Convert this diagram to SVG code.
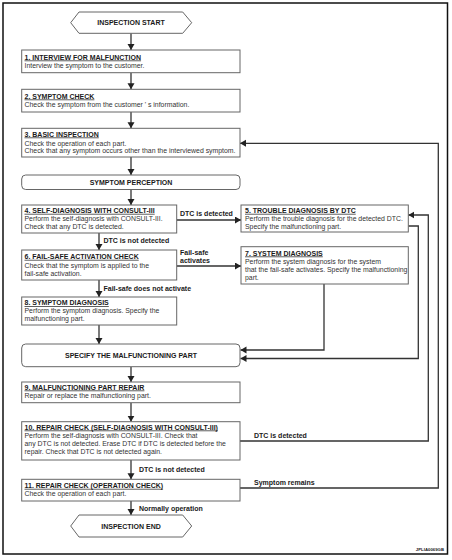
<svg xmlns="http://www.w3.org/2000/svg" width="452" height="560" viewBox="0 0 452 560">
<style>
text{font-family:"Liberation Sans",Arial,sans-serif;fill:#1a1a1a}
.h{font-size:7px;font-weight:bold;text-decoration:underline}
.b{font-size:6.9px;fill:#333}
.c{font-size:7px;font-weight:bold;text-anchor:middle}
.l{font-size:7px;font-weight:bold}
.box{fill:#fff;stroke:#666;stroke-width:1}
.ln{fill:none;stroke:#333;stroke-width:1.3}
</style>
<defs>
<marker id="a" markerUnits="userSpaceOnUse" markerWidth="8" markerHeight="8" refX="6" refY="3.5" orient="auto">
<path d="M0,0 L6,3.5 L0,7 Z" fill="#222"/>
</marker>
</defs>
<rect x="3" y="3" width="444.5" height="551" fill="#fff" stroke="#111" stroke-width="1.5"/>
<g id="connectors">
<line class="ln" x1="131" y1="33.3" x2="131" y2="50" marker-end="url(#a)"/>
<line class="ln" x1="131" y1="72.7" x2="131" y2="89.3" marker-end="url(#a)"/>
<line class="ln" x1="131" y1="112" x2="131" y2="128.3" marker-end="url(#a)"/>
<line class="ln" x1="131" y1="157" x2="131" y2="175" marker-end="url(#a)"/>
<line class="ln" x1="131" y1="189.5" x2="131" y2="205" marker-end="url(#a)"/>
<line class="ln" x1="176.7" y1="220" x2="241" y2="220" marker-end="url(#a)"/>
<line class="ln" x1="99" y1="233" x2="99" y2="250" marker-end="url(#a)"/>
<line class="ln" x1="176.7" y1="266" x2="241" y2="266" marker-end="url(#a)"/>
<line class="ln" x1="99" y1="280" x2="99" y2="297" marker-end="url(#a)"/>
<line class="ln" x1="99" y1="325" x2="99" y2="344" marker-end="url(#a)"/>
<polyline class="ln" points="324,284 324,350 240.5,350" marker-end="url(#a)"/>
<polyline class="ln" points="408.3,226 418.3,226 418.3,358.5 240.5,358.5" marker-end="url(#a)"/>
<polyline class="ln" points="240,441 428.3,441 428.3,215 408.3,215" marker-end="url(#a)"/>
<polyline class="ln" points="240,488 438.3,488 438.3,143.3 240,143.3" marker-end="url(#a)"/>
<line class="ln" x1="131" y1="366.7" x2="131" y2="382" marker-end="url(#a)"/>
<line class="ln" x1="131" y1="402.7" x2="131" y2="421.7" marker-end="url(#a)"/>
<line class="ln" x1="131" y1="460" x2="131" y2="479.3" marker-end="url(#a)"/>
<line class="ln" x1="131" y1="501" x2="131" y2="515" marker-end="url(#a)"/>
<text class="l" x="180" y="216">DTC is detected</text>
<text class="l" x="103.5" y="242.5">DTC is not detected</text>
<text class="l" x="180" y="255">Fail-safe</text>
<text class="l" x="180" y="262.5">activates</text>
<text class="l" x="103.5" y="290.5">Fail-safe does not activate</text>
<text class="l" x="254" y="438">DTC is detected</text>
<text class="l" x="139" y="471.5">DTC is not detected</text>
<text class="l" x="254" y="484.5">Symptom remains</text>
<text class="l" x="139" y="511">Normally operation</text>
</g>
<g id="start">
<polygon class="box" points="70.7,22.7 79,12 182.7,12 191.7,22.7 182.7,33.3 79,33.3"/>
<text class="c" x="131" y="25.3">INSPECTION START</text>
</g>
<g id="n1">
<rect class="box" x="21.7" y="50" width="218.3" height="22.7"/>
<text class="h" x="24.5" y="59.5">1. INTERVIEW FOR MALFUNCTION</text>
<text class="b" x="24.5" y="67.5">Interview the symptom to the customer.</text>
</g>
<g id="n2">
<rect class="box" x="21.7" y="89.3" width="218.3" height="22.7"/>
<text class="h" x="24.5" y="98.5">2. SYMPTOM CHECK</text>
<text class="b" x="24.5" y="106.5">Check the symptom from the customer ' s information.</text>
</g>
<g id="n3">
<rect class="box" x="21.7" y="128.3" width="218.3" height="28.7"/>
<text class="h" x="24.5" y="136.5">3. BASIC INSPECTION</text>
<text class="b" x="24.5" y="145.5">Check the operation of each part.</text>
<text class="b" x="24.5" y="153.3">Check that any symptom occurs other than the interviewed symptom.</text>
</g>
<g id="symptom-perception">
<rect class="box" x="21.7" y="175" width="218.3" height="14.5" rx="4"/>
<text class="c" x="131" y="184.7">SYMPTOM PERCEPTION</text>
</g>
<g id="n4">
<rect class="box" x="21.7" y="205" width="155" height="28"/>
<text class="h" x="24.5" y="212.8">4. SELF-DIAGNOSIS WITH CONSULT-III</text>
<text class="b" x="24.5" y="221">Perform the self-diagnosis with CONSULT-III.</text>
<text class="b" x="24.5" y="229">Check that any DTC is detected.</text>
</g>
<g id="n5">
<rect class="box" x="241" y="205" width="167.3" height="27"/>
<text class="h" x="245" y="212.8">5. TROUBLE DIAGNOSIS BY DTC</text>
<text class="b" x="245" y="221">Perform the trouble diagnosis for the detected DTC.</text>
<text class="b" x="245" y="229">Specify the malfunctioning part.</text>
</g>
<g id="n6">
<rect class="box" x="21.7" y="250" width="155" height="30"/>
<text class="h" x="24.5" y="258.8">6. FAIL-SAFE ACTIVATION CHECK</text>
<text class="b" x="24.5" y="267.5">Check that the symptom is applied to the</text>
<text class="b" x="24.5" y="275.5">fail-safe activation.</text>
</g>
<g id="n7">
<rect class="box" x="241" y="246.7" width="167.3" height="37.3"/>
<text class="h" x="245" y="255.5">7. SYSTEM DIAGNOSIS</text>
<text class="b" x="245" y="264">Perform the system diagnosis for the system</text>
<text class="b" x="245" y="271.8">that the fail-safe activates. Specify the malfunctioning</text>
<text class="b" x="245" y="279.6">part.</text>
</g>
<g id="n8">
<rect class="box" x="21.7" y="297" width="155" height="28"/>
<text class="h" x="24.5" y="305">8. SYMPTOM DIAGNOSIS</text>
<text class="b" x="24.5" y="313.3">Perform the symptom diagnosis. Specify the</text>
<text class="b" x="24.5" y="321.2">malfunctioning part.</text>
</g>
<g id="specify">
<rect class="box" x="21.7" y="344" width="218.3" height="22.7" rx="4"/>
<text class="c" x="131" y="357.6">SPECIFY THE MALFUNCTIONING PART</text>
</g>
<g id="n9">
<rect class="box" x="21.7" y="382" width="218.3" height="20.7"/>
<text class="h" x="24.5" y="389.5">9. MALFUNCTIONING PART REPAIR</text>
<text class="b" x="24.5" y="397.8">Repair or replace the malfunctioning part.</text>
</g>
<g id="n10">
<rect class="box" x="21.7" y="421.7" width="218.3" height="38.3"/>
<text class="h" x="24.5" y="429.5">10. REPAIR CHECK (SELF-DIAGNOSIS WITH CONSULT-III)</text>
<text class="b" x="24.5" y="438">Perform the self-diagnosis with CONSULT-III. Check that</text>
<text class="b" x="24.5" y="446.2">any DTC is not detected. Erase DTC if DTC is detected before the</text>
<text class="b" x="24.5" y="454.4">repair. Check that DTC is not detected again.</text>
</g>
<g id="n11">
<rect class="box" x="21.7" y="479.3" width="218.3" height="21.7"/>
<text class="h" x="24.5" y="487.8">11. REPAIR CHECK (OPERATION CHECK)</text>
<text class="b" x="24.5" y="496.2">Check the operation of each part.</text>
</g>
<g id="end">
<polygon class="box" points="70.7,526 79,515 182.7,515 191.7,526 182.7,537 79,537"/>
<text class="c" x="131" y="528.6">INSPECTION END</text>
</g>
<text x="444" y="550.5" style="font-size:4.3px;font-weight:bold;text-anchor:end">JPLIA0069GB</text>
</svg>
